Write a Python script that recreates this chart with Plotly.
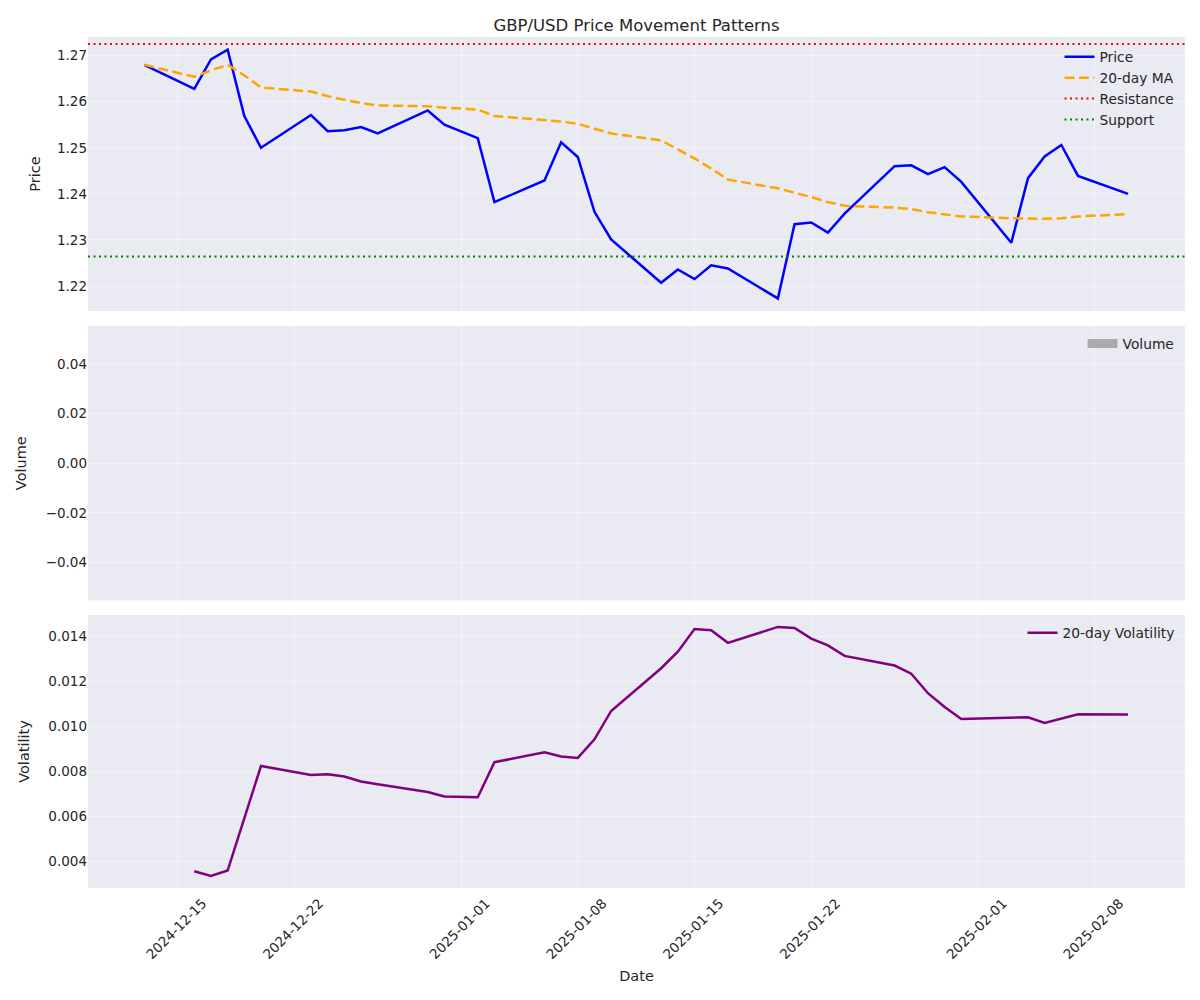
import plotly.graph_objects as go

# ---------------- data ----------------
dates = [
    "2024-12-13", "2024-12-16", "2024-12-17", "2024-12-18", "2024-12-19", "2024-12-20",
    "2024-12-23", "2024-12-24", "2024-12-25", "2024-12-26", "2024-12-27",
    "2024-12-30", "2024-12-31", "2025-01-02", "2025-01-03",
    "2025-01-06", "2025-01-07", "2025-01-08", "2025-01-09", "2025-01-10",
    "2025-01-13", "2025-01-14", "2025-01-15", "2025-01-16", "2025-01-17",
    "2025-01-20", "2025-01-21", "2025-01-22", "2025-01-23", "2025-01-24",
    "2025-01-27", "2025-01-28", "2025-01-29", "2025-01-30", "2025-01-31",
    "2025-02-03", "2025-02-04", "2025-02-05", "2025-02-06", "2025-02-07",
    "2025-02-10",
]
price = [
    1.2680, 1.2628, 1.2692, 1.2713, 1.2569, 1.2500,
    1.2571, 1.2536, 1.2538, 1.2545, 1.2531,
    1.2581, 1.2550, 1.2521, 1.2382,
    1.2429, 1.2512, 1.2480, 1.2361, 1.2301,
    1.2207, 1.2236, 1.2215, 1.2245, 1.2238,
    1.2173, 1.2334, 1.2338, 1.2316, 1.2357,
    1.2460, 1.2462, 1.2443, 1.2458, 1.2426,
    1.2294, 1.2434, 1.2481, 1.2506, 1.2439,
    1.2400,
]
ma20 = [
    1.2680, 1.2654, 1.2668, 1.2680, 1.2657, 1.2631,
    1.2622, 1.2612, 1.2604, 1.2597, 1.2592,
    1.2590, 1.2587, 1.2583, 1.2569,
    1.2560, 1.2557, 1.2552, 1.2542, 1.2531,
    1.2516, 1.2496, 1.2477, 1.2455, 1.2431,
    1.2412, 1.2403, 1.2393, 1.2382, 1.2374,
    1.2370, 1.2367, 1.2360, 1.2356, 1.2351,
    1.2347, 1.2346, 1.2346, 1.2347, 1.2351,
    1.2356,
]
volatility = [
    None, 0.00356, 0.00335, 0.00359, 0.00597, 0.00824,
    0.00784, 0.00787, 0.00777, 0.00755, 0.00743,
    0.00708, 0.00688, 0.00685, 0.00841,
    0.00885, 0.00866, 0.00860, 0.00943, 0.01069,
    0.01259, 0.01333, 0.01434, 0.01428, 0.01372,
    0.01443, 0.01438, 0.01391, 0.01361, 0.01314,
    0.01271, 0.01235, 0.01148, 0.01087, 0.01033,
    0.01038, 0.01041, 0.01016, 0.01035, 0.01054,
    0.01053,
]
volume = [None] * len(dates)  # source has no volume values (empty panel)
resistance = 1.2725
support = 1.2264

x_ticks = ["2024-12-15", "2024-12-22", "2025-01-01", "2025-01-08",
           "2025-01-15", "2025-01-22", "2025-02-01", "2025-02-08"]
price_ticks = [1.22, 1.23, 1.24, 1.25, 1.26, 1.27]
volume_ticks = [-0.04, -0.02, 0.0, 0.02, 0.04]
vol_ticks = [0.004, 0.006, 0.008, 0.010, 0.012, 0.014]

# ---------------- style ----------------
FONT = "DejaVu Sans"
TXT = "#262626"
BG = "#EAEAF2"
GRID = "rgba(255,255,255,0.45)"
x_range = ["2024-12-09 15:00", "2025-02-13 10:00"]

fig = go.Figure()

fig.add_trace(go.Scatter(x=dates, y=price, mode="lines", name="Price",
                         line=dict(color="blue", width=2.5),
                         xaxis="x", yaxis="y", legend="legend", legendrank=1))
fig.add_trace(go.Scatter(x=dates, y=ma20, mode="lines", name="20-day MA",
                         line=dict(color="orange", width=2.5, dash="10px,4.5px"),
                         xaxis="x", yaxis="y", legend="legend", legendrank=2))
fig.add_shape(type="line", xref="x domain", x0=0, x1=1, yref="y",
              y0=resistance, y1=resistance,
              line=dict(color="red", width=2, dash="2px,3.5px"),
              showlegend=True, name="Resistance", legend="legend", legendrank=3)
fig.add_shape(type="line", xref="x domain", x0=0, x1=1, yref="y",
              y0=support, y1=support,
              line=dict(color="green", width=2, dash="2px,3.5px"),
              showlegend=True, name="Support", legend="legend", legendrank=4)

# volume bars (empty in the source) + legend patch proxy
fig.add_trace(go.Bar(x=dates, y=volume, name="Volume",
                     marker=dict(color="#ababad"), showlegend=False,
                     xaxis="x2", yaxis="y2"))
fig.add_trace(go.Scatter(x=dates, y=volume, mode="lines", name="Volume",
                         line=dict(color="#ababad", width=9),
                         xaxis="x2", yaxis="y2", legend="legend2", showlegend=True))

fig.add_trace(go.Scatter(x=dates, y=volatility, mode="lines", name="20-day Volatility",
                         line=dict(color="purple", width=2.5),
                         xaxis="x3", yaxis="y3", legend="legend3"))

common_x = dict(type="date", range=x_range, tickvals=x_ticks, showgrid=True,
                gridcolor=GRID, gridwidth=1, zeroline=False, showline=False,
                ticks="", tickfont=dict(family=FONT, size=13.5, color=TXT))
common_y = dict(showgrid=True, gridcolor=GRID, gridwidth=1, zeroline=False,
                showline=False, ticks="", tickfont=dict(family=FONT, size=13.5, color=TXT))

legend_common = dict(xanchor="right", yanchor="top", bgcolor="rgba(0,0,0,0)",
                     font=dict(family=FONT, size=13.8, color=TXT), borderwidth=0)

fig.update_layout(
    width=1200, height=1000,
    margin=dict(l=88, r=15, t=37, b=112),
    paper_bgcolor="white", plot_bgcolor=BG,
    font=dict(family=FONT, color=TXT),
    title=dict(text="GBP/USD Price Movement Patterns", x=0.5, xref="paper",
               y=0.975, yref="container", yanchor="middle", xanchor="center",
               font=dict(family=FONT, size=16.5, color=TXT)),
    xaxis=dict(common_x, domain=[0, 1], anchor="y", showticklabels=False),
    xaxis2=dict(common_x, domain=[0, 1], anchor="y2", showticklabels=False),
    xaxis3=dict(common_x, domain=[0, 1], anchor="y3", tickformat="%Y-%m-%d",
                tickangle=-45, ticklabelshift=25, ticklabelstandoff=4,
                title=dict(text="Date", font=dict(family=FONT, size=14.5, color=TXT),
                           standoff=9)),
    yaxis=dict(common_y, domain=[0.678, 1.0], range=[1.21457, 1.27404],
               tickvals=price_ticks, tickformat=".2f",
               title=dict(text="Price", font=dict(family=FONT, size=14.5, color=TXT),
                          standoff=12)),
    yaxis2=dict(common_y, domain=[0.338, 0.6604], range=[-0.0552, 0.0552],
                tickvals=volume_ticks, tickformat=".2f",
                title=dict(text="Volume", font=dict(family=FONT, size=14.5, color=TXT))),
    yaxis3=dict(common_y, domain=[0.0, 0.3208], range=[0.002812, 0.01496],
                tickvals=vol_ticks, tickformat=".3f",
                title=dict(text="Volatility", font=dict(family=FONT, size=14.5, color=TXT))),
    legend=dict(legend_common, x=0.995, y=0.995),
    legend2=dict(legend_common, x=0.995, y=0.658),
    legend3=dict(legend_common, x=0.995, y=0.318),
)

fig.write_html("out.html")
